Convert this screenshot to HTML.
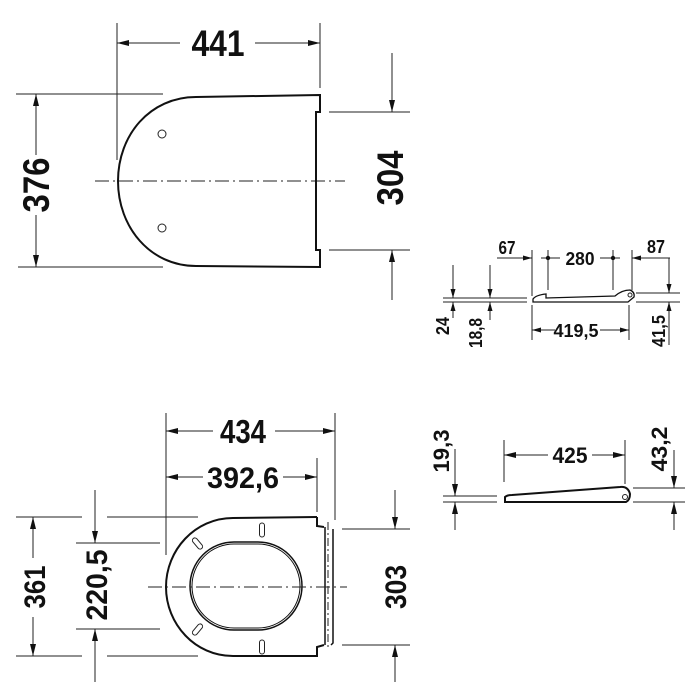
<!DOCTYPE html>
<html><head><meta charset="utf-8"><style>
html,body{margin:0;padding:0;background:#fff;}
svg{display:block;}
text{font-family:"Liberation Sans",sans-serif;font-weight:bold;fill:#111;}
</style></head><body>
<svg width="700" height="700" viewBox="0 0 700 700" xmlns="http://www.w3.org/2000/svg">
<defs>
<marker id="a" markerWidth="12" markerHeight="6" refX="12" refY="3" orient="auto" markerUnits="userSpaceOnUse"><polygon points="0,0 12,3 0,6" fill="#111"/></marker>
<marker id="s" markerWidth="9" markerHeight="5" refX="9" refY="2.5" orient="auto" markerUnits="userSpaceOnUse"><polygon points="0,0 9,2.5 0,5" fill="#111"/></marker>
</defs>
<g stroke="#222" stroke-width="1" fill="none">
<!-- TOP VIEW -->
<line x1="117" y1="23" x2="117" y2="160"/><line x1="320" y1="23" x2="320" y2="88"/>
<line x1="180" y1="43" x2="117" y2="43" marker-end="url(#a)"/><line x1="255" y1="43" x2="320" y2="43" marker-end="url(#a)"/>
<line x1="16" y1="94" x2="163" y2="94"/><line x1="18" y1="267" x2="163" y2="267"/>
<line x1="36" y1="155" x2="36" y2="94" marker-end="url(#a)"/><line x1="36" y1="215" x2="36" y2="267" marker-end="url(#a)"/>
<line x1="329" y1="112" x2="410" y2="112"/><line x1="329" y1="250" x2="410" y2="250"/>
<line x1="392" y1="53" x2="392" y2="112" marker-end="url(#a)"/><line x1="392" y1="300" x2="392" y2="250" marker-end="url(#a)"/>
<line x1="95" y1="181" x2="345" y2="181" stroke-dasharray="14 4 2 4"/>
<path d="M320,95 L196,97 C150,97 118,135 118,181 C118,227 150,266 196,266 L320,267 L320,250 L316,250 L316,112 L320,112 Z" stroke="#111" stroke-width="2"/>
<circle cx="162" cy="134" r="4"/><circle cx="162" cy="228" r="4"/>

<!-- SIDE VIEW 1 -->
<line x1="443" y1="298" x2="527" y2="298"/><line x1="443" y1="302" x2="527" y2="302"/>
<line x1="636" y1="293" x2="680" y2="293"/><line x1="636" y1="302" x2="680" y2="302"/>
<path d="M533,302 L533,299 Q536,295 546,294 L546,298 L615,296 Q622,290 630,290 Q635,292 634,297 L628,302 Z" stroke="#111" stroke-width="1.3"/>
<circle cx="630" cy="295" r="2"/>
<line x1="532" y1="250" x2="532" y2="296"/><line x1="548" y1="250" x2="548" y2="290"/>
<line x1="613" y1="250" x2="613" y2="290"/><line x1="632" y1="250" x2="632" y2="290"/>
<line x1="532" y1="305" x2="532" y2="340"/><line x1="629" y1="305" x2="629" y2="340"/>
<line x1="497" y1="258" x2="532" y2="258" marker-end="url(#s)"/>
<line x1="541" y1="258" x2="560" y2="258"/><line x1="600" y1="258" x2="620" y2="258"/>
<line x1="670" y1="258" x2="632" y2="258" marker-end="url(#s)"/>
<line x1="669" y1="258" x2="669" y2="293" marker-end="url(#s)"/>
<line x1="555" y1="330" x2="532" y2="330" marker-end="url(#s)"/><line x1="600" y1="330" x2="629" y2="330" marker-end="url(#s)"/>
<line x1="453" y1="265" x2="453" y2="298" marker-end="url(#s)"/><line x1="453" y1="318" x2="453" y2="302" marker-end="url(#s)"/>
<line x1="490" y1="265" x2="490" y2="298" marker-end="url(#s)"/><line x1="490" y1="320" x2="490" y2="302" marker-end="url(#s)"/>
<line x1="669" y1="345" x2="669" y2="302" marker-end="url(#s)"/>

<!-- SIDE VIEW 2 -->
<line x1="443" y1="496" x2="497" y2="496"/><line x1="443" y1="502" x2="497" y2="502"/>
<line x1="633" y1="488" x2="685" y2="488"/><line x1="633" y1="502" x2="685" y2="502"/>
<path d="M505,502 L505,497 Q507,495 512,495 L620,487 Q628,486 630,494 Q630,500 626,502 Z" stroke="#111" stroke-width="2"/>
<circle cx="625" cy="497" r="2.5"/>
<line x1="504" y1="440" x2="504" y2="482"/><line x1="625" y1="440" x2="625" y2="484"/>
<line x1="548" y1="455" x2="504" y2="455" marker-end="url(#a)"/><line x1="592" y1="455" x2="625" y2="455" marker-end="url(#a)"/>
<line x1="455" y1="449" x2="455" y2="496" marker-end="url(#a)"/><line x1="455" y1="530" x2="455" y2="502" marker-end="url(#a)"/>
<line x1="674" y1="450" x2="674" y2="488" marker-end="url(#a)"/><line x1="674" y1="530" x2="674" y2="502" marker-end="url(#a)"/>

<!-- BOTTOM VIEW -->
<line x1="166" y1="413" x2="166" y2="555"/><line x1="335" y1="413" x2="335" y2="520"/>
<line x1="213" y1="431" x2="166" y2="431" marker-end="url(#a)"/><line x1="275" y1="431" x2="335" y2="431" marker-end="url(#a)"/>
<line x1="317" y1="458" x2="317" y2="512"/>
<line x1="203" y1="477" x2="166" y2="477" marker-end="url(#a)"/><line x1="283" y1="477" x2="317" y2="477" marker-end="url(#a)"/>
<path d="M317,517 L233,518 C195,518 166,550 166,587 C166,624 195,656 233,656 L317,656 L317,647 L324,645" stroke="#111" stroke-width="2"/>
<path d="M317,517 L317,526 L324,527" stroke="#111" stroke-width="2"/>
<path d="M325,527 L325,645 M333,529 L333,643 L331,645" stroke="#111" stroke-width="1.5"/>
<line x1="328" y1="522" x2="328" y2="650" stroke-dasharray="8 3 2 3"/>
<rect x="190" y="542" width="112" height="88" rx="44" ry="44" stroke="#111" stroke-width="1.5"/>
<rect x="192" y="544" width="108" height="84" rx="42" ry="42" stroke="#111" stroke-width="1"/>
<rect x="259.5" y="523" width="5" height="14" rx="2.5"/><rect x="259.5" y="640" width="5" height="14" rx="2.5"/>
<rect x="195" y="537" width="5" height="13" rx="2.5" transform="rotate(-40 197.5 543.5)"/>
<rect x="195" y="623" width="5" height="13" rx="2.5" transform="rotate(40 197.5 629.5)"/>
<line x1="148" y1="587" x2="347" y2="587" stroke-dasharray="14 4 2 4"/>
<line x1="16" y1="517" x2="82" y2="517"/><line x1="107" y1="517" x2="198" y2="517"/>
<line x1="16" y1="656" x2="82" y2="656"/><line x1="107" y1="656" x2="198" y2="656"/>
<line x1="33" y1="558" x2="33" y2="517" marker-end="url(#a)"/><line x1="33" y1="617" x2="33" y2="656" marker-end="url(#a)"/>
<line x1="76" y1="543" x2="160" y2="543"/><line x1="76" y1="629" x2="160" y2="629"/>
<line x1="95" y1="490" x2="95" y2="543" marker-end="url(#a)"/><line x1="95" y1="682" x2="95" y2="629" marker-end="url(#a)"/>
<line x1="342" y1="529" x2="410" y2="529"/><line x1="342" y1="645" x2="410" y2="645"/>
<line x1="395" y1="490" x2="395" y2="529" marker-end="url(#a)"/><line x1="395" y1="682" x2="395" y2="645" marker-end="url(#a)"/>
</g>
<circle cx="548" cy="258" r="2.2" fill="#111"/><circle cx="613" cy="258" r="2.2" fill="#111"/>

<!-- TEXT -->
<text x="218" y="56" font-size="37" text-anchor="middle" textLength="53" lengthAdjust="spacingAndGlyphs">441</text>
<text transform="translate(36,185) rotate(-90)" y="13" font-size="37" text-anchor="middle" textLength="55" lengthAdjust="spacingAndGlyphs">376</text>
<text transform="translate(390,178) rotate(-90)" y="13" font-size="37" text-anchor="middle" textLength="55" lengthAdjust="spacingAndGlyphs">304</text>

<text x="507" y="254" font-size="18" text-anchor="middle" textLength="17" lengthAdjust="spacingAndGlyphs">67</text>
<text x="580" y="265" font-size="18" text-anchor="middle" textLength="29" lengthAdjust="spacingAndGlyphs">280</text>
<text x="656" y="253" font-size="18" text-anchor="middle" textLength="18" lengthAdjust="spacingAndGlyphs">87</text>
<text x="576" y="337" font-size="18" text-anchor="middle" textLength="45" lengthAdjust="spacingAndGlyphs">419,5</text>
<text transform="translate(443,326) rotate(-90)" y="6" font-size="18" text-anchor="middle" textLength="18" lengthAdjust="spacingAndGlyphs">24</text>
<text transform="translate(476,333) rotate(-90)" y="6" font-size="18" text-anchor="middle" textLength="30" lengthAdjust="spacingAndGlyphs">18,8</text>
<text transform="translate(659,331) rotate(-90)" y="6" font-size="18" text-anchor="middle" textLength="32" lengthAdjust="spacingAndGlyphs">41,5</text>

<text x="570" y="463" font-size="22" text-anchor="middle" textLength="35" lengthAdjust="spacingAndGlyphs">425</text>
<text transform="translate(441,451) rotate(-90)" y="8" font-size="22" text-anchor="middle" textLength="43" lengthAdjust="spacingAndGlyphs">19,3</text>
<text transform="translate(659,449) rotate(-90)" y="8" font-size="22" text-anchor="middle" textLength="45" lengthAdjust="spacingAndGlyphs">43,2</text>

<text x="243" y="443" font-size="33" text-anchor="middle" textLength="46" lengthAdjust="spacingAndGlyphs">434</text>
<text x="243" y="488" font-size="30" text-anchor="middle" textLength="72" lengthAdjust="spacingAndGlyphs">392,6</text>
<text transform="translate(34,587) rotate(-90)" y="11" font-size="30" text-anchor="middle" textLength="43" lengthAdjust="spacingAndGlyphs">361</text>
<text transform="translate(96,585) rotate(-90)" y="11" font-size="30" text-anchor="middle" textLength="71" lengthAdjust="spacingAndGlyphs">220,5</text>
<text transform="translate(395,587) rotate(-90)" y="11" font-size="30" text-anchor="middle" textLength="44" lengthAdjust="spacingAndGlyphs">303</text>
</svg>
</body></html>
